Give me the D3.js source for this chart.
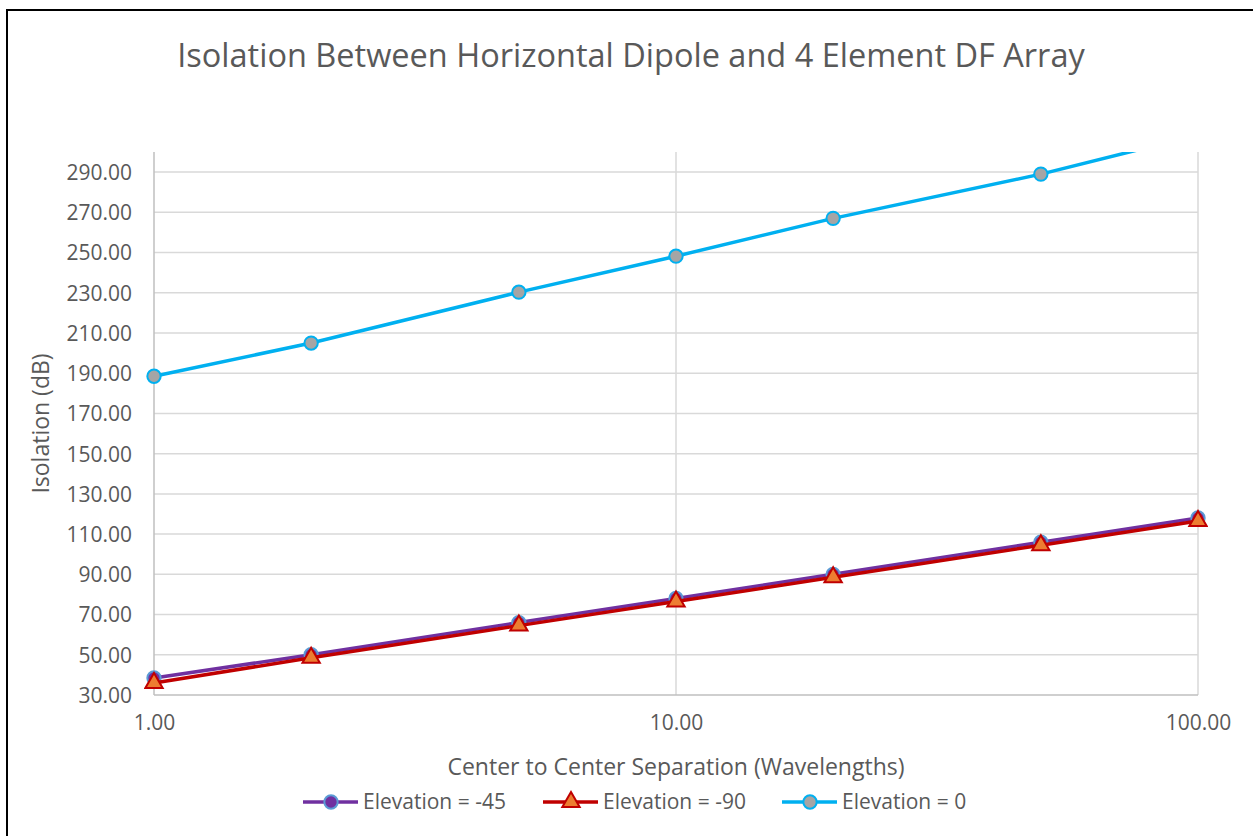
<!DOCTYPE html>
<html lang="en">
<head>
  <meta charset="UTF-8">
  <title>isolation-chart</title>
  <script src="https://cdn.jsdelivr.net/npm/d3@7"></script>
  <style>
    body { margin: 0; background: #fff; }
    text { font-family: "Open Sans", "Liberation Sans", sans-serif; fill: #595959; }
  </style>
</head>
<body>
<script>
// separation in wavelengths
let separations = [1, 2, 5, 10, 20, 50, 100];
let seriesNames = ['Elevation = -45', 'Elevation = -90', 'Elevation = 0'];
let elev45 = [38.5, 50, 66, 78, 90, 106, 118];
let elev90 = [36, 48.5, 64.5, 76.5, 88.5, 104.5, 116.5];
let elev0 = [188.5, 205, 230.3, 248.2, 267, 289, 308.5];
let yTicks = [30, 50, 70, 90, 110, 130, 150, 170, 190, 210, 230, 250, 270, 290];
let xTicks = [1, 10, 100];

let width = 1253, height = 836;
let margins = {top: 152, left: 154, right: 55, bottom: 141};

let styles = [
  {line: '#7030A0', fill: '#7030A0', stroke: '#5B9BD5', symbol: d3.symbolCircle},
  {line: '#C00000', fill: '#ED7D31', stroke: '#C00000', symbol: d3.symbolTriangle},
  {line: '#00B0F0', fill: '#A5A5A5', stroke: '#00B0F0', symbol: d3.symbolCircle}
];
let data = [elev45, elev90, elev0];

let svg = d3.select('body').append('svg')
  .attr('width', width)
  .attr('height', height);

svg.append('rect')
  .attr('x', 7).attr('y', 10)
  .attr('width', 1270).attr('height', 850)
  .attr('fill', 'none')
  .attr('stroke', '#000')
  .attr('stroke-width', 2);

let x = d3.scaleLog().domain([1, 100]).range([margins.left, width - margins.right]);
let y = d3.scaleLinear().domain([30, 300]).range([height - margins.bottom, margins.top]);

// grid
svg.append('g').selectAll('line.h')
  .data(yTicks.slice(1))
  .enter().append('line')
  .attr('x1', x(1)).attr('x2', x(100))
  .attr('y1', d => y(d)).attr('y2', d => y(d))
  .attr('stroke', '#d9d9d9').attr('stroke-width', 1.5);

svg.append('g').selectAll('line.v')
  .data(xTicks.slice(1))
  .enter().append('line')
  .attr('x1', d => x(d)).attr('x2', d => x(d))
  .attr('y1', y(30)).attr('y2', y(300))
  .attr('stroke', '#d9d9d9').attr('stroke-width', 1.5);

// axis lines
svg.append('line')
  .attr('x1', x(1)).attr('x2', x(1))
  .attr('y1', y(30)).attr('y2', y(300))
  .attr('stroke', '#bfbfbf').attr('stroke-width', 1.5);
svg.append('line')
  .attr('x1', x(1)).attr('x2', x(100))
  .attr('y1', y(30)).attr('y2', y(30))
  .attr('stroke', '#bfbfbf').attr('stroke-width', 1.5);

let yAxis = d3.axisLeft(y).tickValues(yTicks).tickSize(0).tickPadding(22)
  .tickFormat(d3.format('.2f'));
let yG = svg.append('g').attr('transform', 'translate(' + x(1) + ',0)').call(yAxis);
yG.select('.domain').remove();
yG.selectAll('text').style('font-size', '21px').attr('dy', '0.35em');

let xAxis = d3.axisBottom(x).tickValues(xTicks).tickSize(0).tickPadding(20)
  .tickFormat(d3.format('.2f'));
let xG = svg.append('g').attr('transform', 'translate(0,' + y(30) + ')').call(xAxis);
xG.select('.domain').remove();
xG.selectAll('text').style('font-size', '21px');

// clipped body
svg.append('defs').append('clipPath').attr('id', 'body-clip')
  .append('rect')
  .attr('x', x(1) - 10).attr('y', y(300))
  .attr('width', x(100) - x(1) + 20).attr('height', y(30) - y(300) + 10);

let body = svg.append('g').attr('clip-path', 'url(#body-clip)');

let line = d3.line()
  .x((d, i) => x(separations[i]))
  .y(d => y(d));

data.forEach(function (series, k) {
  let s = styles[k];
  body.append('path')
    .datum(series)
    .attr('d', line)
    .attr('fill', 'none')
    .attr('stroke', s.line)
    .attr('stroke-width', 3.5);
  body.selectAll('path.m' + k)
    .data(series.filter(v => v <= 300))
    .enter().append('path')
    .attr('class', 'm' + k)
    .attr('transform', (d, i) => 'translate(' + x(separations[i]) + ',' + y(d) + ')')
    .attr('d', d3.symbol().type(s.symbol).size(k === 1 ? 130 : 140))
    .attr('fill', s.fill)
    .attr('stroke', s.stroke)
    .attr('stroke-width', 2);
});

// titles
svg.append('text')
  .attr('x', 631).attr('y', 67)
  .attr('text-anchor', 'middle')
  .style('font-size', '32.5px')
  .text('Isolation Between Horizontal Dipole and 4 Element DF Array');

svg.append('text')
  .attr('transform', 'translate(49,' + ((y(30) + y(300)) / 2) + ') rotate(-90)')
  .attr('text-anchor', 'middle')
  .style('font-size', '23px')
  .text('Isolation (dB)');

svg.append('text')
  .attr('x', x(10)).attr('y', 775)
  .attr('text-anchor', 'middle')
  .style('font-size', '23px')
  .text('Center to Center Separation (Wavelengths)');

// legend
let legendX = [303, 543, 782];
let legend = svg.append('g');
seriesNames.forEach(function (name, k) {
  let s = styles[k];
  let g = legend.append('g').attr('transform', 'translate(' + legendX[k] + ',802)');
  g.append('line').attr('x1', 0).attr('x2', 55)
    .attr('stroke', s.line).attr('stroke-width', 3.5);
  g.append('path')
    .attr('transform', 'translate(28,0)')
    .attr('d', d3.symbol().type(s.symbol).size(k === 1 ? 130 : 140))
    .attr('fill', s.fill).attr('stroke', s.stroke).attr('stroke-width', 2);
  g.append('text').attr('x', 60).attr('dy', '0.35em')
    .style('font-size', '21px')
    .text(name);
});
</script>
</body>
</html>
